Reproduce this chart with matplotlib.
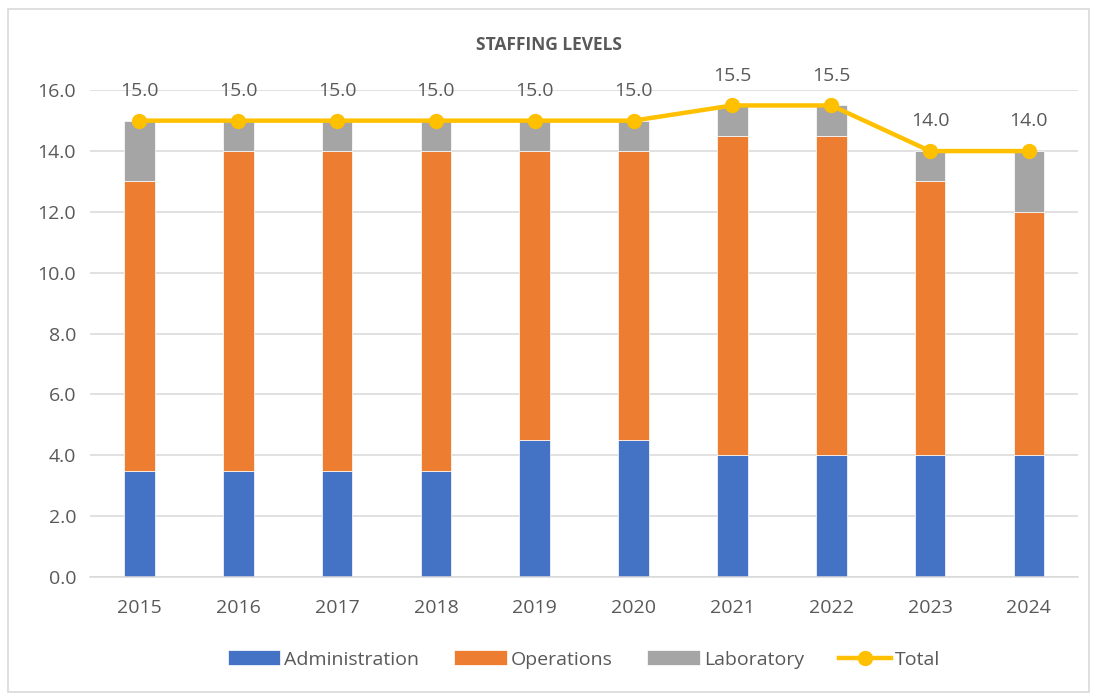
import numpy as np
import matplotlib.pyplot as plt
from matplotlib.patches import Rectangle

plt.rcParams['font.family'] = ['Open Sans', 'DejaVu Sans']

years = ['2015', '2016', '2017', '2018', '2019', '2020', '2021', '2022', '2023', '2024']
administration = [3.5, 3.5, 3.5, 3.5, 4.5, 4.5, 4.0, 4.0, 4.0, 4.0]
operations = [9.5, 10.5, 10.5, 10.5, 9.5, 9.5, 10.5, 10.5, 9.0, 8.0]
laboratory = [2.0, 1.0, 1.0, 1.0, 1.0, 1.0, 1.0, 1.0, 1.0, 2.0]

admin = np.array(administration)
ops = np.array(operations)
lab = np.array(laboratory)
total = admin + ops + lab

text_col = '#595959'
fig = plt.figure(figsize=(10.97, 6.94), dpi=100)
ax = fig.add_axes([0.082, 0.1686, 0.901, 0.7014])

x = np.arange(len(years))
w = 0.31
b1 = ax.bar(x, admin, w, color='#4472C4', edgecolor='white', linewidth=0.5, label='Administration', zorder=2)
b2 = ax.bar(x, ops, w, bottom=admin, color='#ED7D31', edgecolor='white', linewidth=0.5, label='Operations', zorder=2)
b3 = ax.bar(x, lab, w, bottom=admin + ops, color='#A5A5A5', edgecolor='white', linewidth=0.5, label='Laboratory', zorder=2)
ln, = ax.plot(x, total, color='#FFC000', linewidth=3.2, marker='o', markersize=10, label='Total', zorder=3)

for xi, t in zip(x, total):
    ax.annotate(f'{t:.1f}', (xi, t), xytext=(0, 15), textcoords='offset points',
                ha='center', va='bottom', fontsize=14, color=text_col, annotation_clip=False)

ax.set_xlim(-0.5, len(years) - 0.5)
ax.set_ylim(0, 16)
ticks = np.arange(0, 16.1, 2)
ax.set_yticks(ticks)
ax.set_yticklabels([f'{v:.1f}' for v in ticks])
ax.set_xticks(x)
ax.set_xticklabels(years)
ax.yaxis.grid(True, color='#D9D9D9', linewidth=1.1, zorder=0)
ax.set_axisbelow(True)
for s in ['top', 'right', 'left']:
    ax.spines[s].set_visible(False)
ax.spines['bottom'].set_color('#D9D9D9')
ax.spines['bottom'].set_linewidth(1.1)
ax.tick_params(axis='both', length=0, labelsize=14, colors=text_col, pad=10)
ax.tick_params(axis='x', pad=16)

fig.text(0.5, 0.935, 'STAFFING LEVELS', ha='center', va='center', fontsize=12.5,
         fontweight='bold', color=text_col)

ax.legend([b1, b2, b3, ln], ['Administration', 'Operations', 'Laboratory', 'Total'],
          loc='upper center', bbox_to_anchor=(0.5, -0.115), ncol=4, frameon=False,
          fontsize=14, labelcolor=text_col, handlelength=2.7, handleheight=0.8,
          columnspacing=1.8, handletextpad=0.2)

fig.patches.append(Rectangle((0.007, 0.003), 0.986, 0.984, transform=fig.transFigure,
                             fill=False, edgecolor='#D9D9D9', linewidth=1.2))

fig.savefig('out.png', dpi=100)
